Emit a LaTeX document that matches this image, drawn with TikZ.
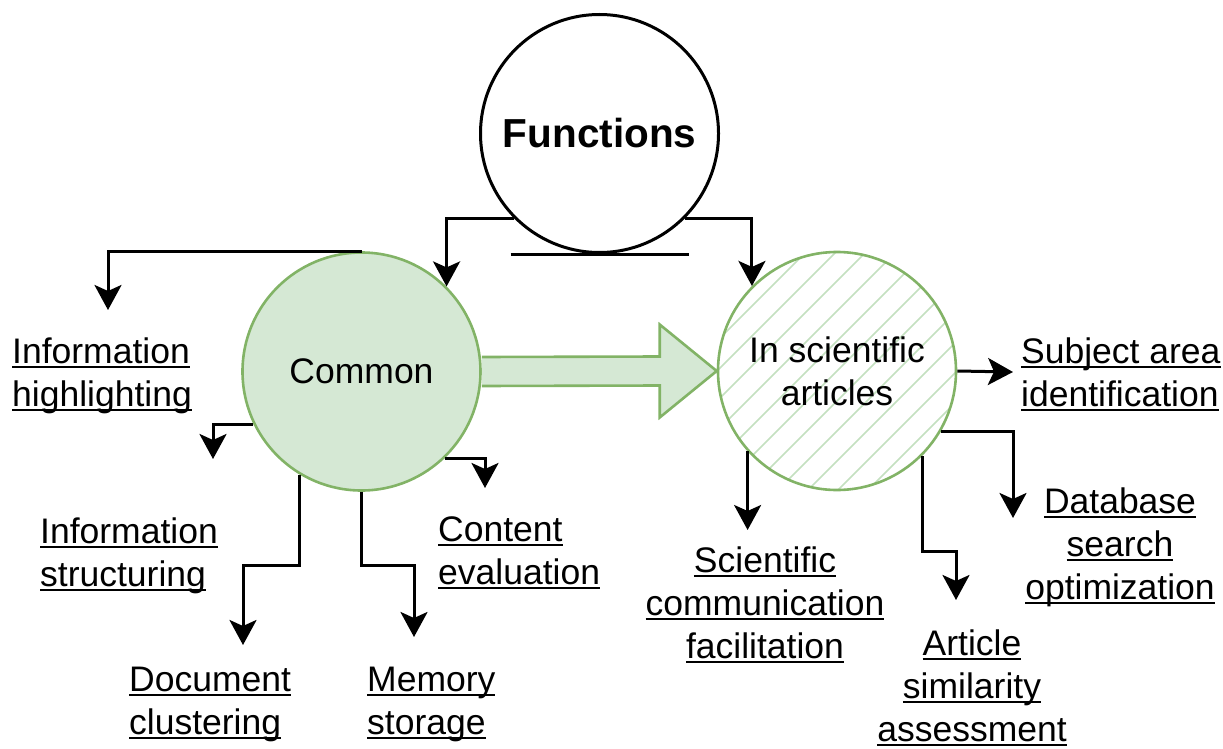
\documentclass[tikz,border=0pt]{standalone}
\usepackage{fontspec}
\setmainfont{Liberation Sans}
\usetikzlibrary{arrows.meta,calc}

\definecolor{greenfill}{HTML}{D5E8D4}
\definecolor{greenline}{HTML}{82B366}
\definecolor{hatchgreen}{HTML}{C4E0C0}

% underline at a fixed depth below the baseline
\newcommand{\undl}[1]{\setbox0=\hbox{#1}\rlap{\rule[-4pt]{\wd0}{2pt}}\box0}

\begin{document}
\begin{tikzpicture}[x=1pt,y=-1pt,
  base font/.style={font=\fontsize{35.5}{43}\selectfont},
  funcnode/.style={circle,draw=black,line width=3pt,minimum size=238pt,inner sep=0pt,
    font=\fontsize{40.5}{48}\selectfont\bfseries},
  greennode/.style={circle,draw=greenline,line width=2.6pt,minimum size=238pt,inner sep=0pt,
    base font,align=center},
  lblleft/.style={base font,align=left,inner sep=0pt,anchor=north west},
  lblmid/.style={base font,align=center,inner sep=0pt,anchor=north},
  conn/.style={draw=black,line width=3pt,
    -{Stealth[length=25pt,width=27pt,inset=6pt]}},
  hatchline/.style={draw=hatchgreen,line width=1.6pt},
  bigarrow/.style={draw=greenline,fill=greenfill,line width=2.6pt,line join=miter}
]
\useasboundingbox (0,0) rectangle (1223,749);

% circles
\node[funcnode] (func) at (599.5,133.5) {Functions};
\node[greennode,fill=greenfill] (common) at (361.5,371.5) {Common};
\node[greennode,fill=white,
  path picture={
    \foreach \k in {-9,...,9}
      \draw[hatchline] ($(path picture bounding box.center)+(\k*30-160,160)$) -- ++(320,-320);
  }] (sci) at (837,371) {In scientific\\articles};

% line under the Functions circle
\draw[line width=3pt] ($(func.south)+(-89,0)$) -- ($(func.south)+(89,0)$);

% labels
\node[lblleft] (ih) at (12,338) {\undl{Information}\\\undl{highlighting}};
\node[lblleft] (is) at (40,518) {\undl{Information}\\\undl{structuring}};
\node[lblleft] (dc) at (129,667) {\undl{Document}\\\undl{clustering}};
\node[lblleft] (ms) at (367,667) {\undl{Memory}\\\undl{storage}};
\node[lblleft] (ce) at (438,517) {\undl{Content}\\\undl{evaluation}};
\node[lblleft] (sa) at (1021,338) {\undl{Subject area}\\\undl{identification}};
\node[lblmid] (sc) at (765,547) {\undl{Scientific}\\\undl{communication}\\\undl{facilitation}};
\node[lblmid] (as) at (972,630) {\undl{Article}\\\undl{similarity}\\\undl{assessment}};
\node[lblmid] (db) at (1120,488) {\undl{Database}\\\undl{search}\\\undl{optimization}};

% arrow end points and bends
\coordinate (ihTip) at (108,310);
\coordinate (isTip) at (213,459);
\coordinate (dcBend) at (243,565);
\coordinate (dcTip) at (243,645);
\coordinate (msBend) at (414,565);
\coordinate (msTip) at (414,637);
\coordinate (ceTip) at (485,488);
\coordinate (saTip) at (1013,372);
\coordinate (dbTip) at (1013,518);
\coordinate (asBend) at (956,551);
\coordinate (asTip) at (956,600);
\coordinate (scTip) at (748,530);

% connectors from Functions
\draw[conn] (func.225) -| (common.45);
\draw[conn] (func.315) -| (sci.135);

% connectors from Common
\draw[conn] (common.north) -| (ihTip);
\draw[conn] (common.206.5) -| (isTip);
\draw[conn] (common.239) |- (dcBend) -- (dcTip);
\draw[conn] (common.south) |- (msBend) -- (msTip);
\draw[conn] (common.-46.4) -| (ceTip);

% connectors from In scientific articles
\draw[conn] (sci.east) -- (saTip);
\draw[conn] (sci.-30.5) -| (dbTip);
\draw[conn] (sci.-45) |- (asBend) -- (asTip);
\draw[conn] (sci.222) -- (sci.222 |- scTip);

% block arrow from Common to In scientific articles
\draw[bigarrow] ($(common.east)+(0,-14.5)$) -- ($(sci.west)+(-57,-14.5)$)
  -- ($(sci.west)+(-57,-46.5)$) -- (sci.west) -- ($(sci.west)+(-57,46.5)$)
  -- ($(sci.west)+(-57,14.5)$) -- ($(common.east)+(0,14.5)$);
\end{tikzpicture}
\end{document}
